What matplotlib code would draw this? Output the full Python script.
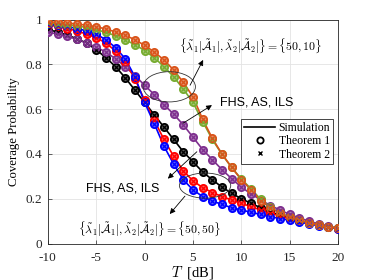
import matplotlib
matplotlib.use("Agg")
import matplotlib.pyplot as plt
from matplotlib.patches import Ellipse
from matplotlib.lines import Line2D
from matplotlib.colors import to_rgb

plt.rcParams['font.family'] = ['Liberation Serif', 'DejaVu Serif']
plt.rcParams['mathtext.fontset'] = 'cm'
plt.rcParams['axes.unicode_minus'] = False

T = list(range(-10, 21))

orange = [0.99, 0.988, 0.985, 0.98, 0.975, 0.968, 0.958, 0.945, 0.93, 0.91, 0.885,
          0.855, 0.82, 0.775, 0.72, 0.655, 0.555, 0.47, 0.40, 0.34, 0.285,
          0.24, 0.192, 0.16, 0.135, 0.118, 0.105, 0.094, 0.084, 0.076, 0.068]
green = [0.985, 0.982, 0.978, 0.972, 0.965, 0.955, 0.943, 0.928, 0.91, 0.888, 0.862,
         0.83, 0.79, 0.745, 0.69, 0.63, 0.545, 0.465, 0.398, 0.34, 0.288,
         0.245, 0.197, 0.163, 0.137, 0.119, 0.105, 0.094, 0.084, 0.076, 0.068]
purple = [0.945, 0.935, 0.925, 0.912, 0.895, 0.877, 0.855, 0.825, 0.79, 0.75, 0.707,
          0.665, 0.62, 0.578, 0.53, 0.475, 0.42, 0.375, 0.33, 0.29, 0.252,
          0.222, 0.195, 0.17, 0.15, 0.13, 0.115, 0.1, 0.088, 0.078, 0.068]
black = [0.955, 0.945, 0.93, 0.915, 0.895, 0.865, 0.83, 0.79, 0.74, 0.685, 0.63,
         0.575, 0.52, 0.465, 0.41, 0.365, 0.32, 0.285, 0.252, 0.225, 0.2,
         0.18, 0.16, 0.142, 0.127, 0.113, 0.102, 0.092, 0.083, 0.075, 0.068]
red = [0.975, 0.97, 0.96, 0.95, 0.935, 0.92, 0.895, 0.86, 0.81, 0.735, 0.64,
       0.55, 0.465, 0.39, 0.325, 0.28, 0.25, 0.228, 0.21, 0.195, 0.18,
       0.165, 0.15, 0.136, 0.123, 0.11, 0.1, 0.09, 0.082, 0.074, 0.067]
blue = [0.98, 0.975, 0.97, 0.96, 0.95, 0.935, 0.91, 0.875, 0.825, 0.745, 0.63,
        0.535, 0.435, 0.355, 0.285, 0.24, 0.21, 0.19, 0.175, 0.16, 0.15,
        0.14, 0.13, 0.12, 0.112, 0.104, 0.096, 0.088, 0.08, 0.073, 0.067]

series = [
    (black, 'k'),
    (purple, '#7E2F8E'),
    (red, 'r'),
    (blue, 'b'),
    (green, '#77AC30'),
    (orange, '#D95319'),
]

label_sets = r'$\{\tilde{\lambda}_1|\tilde{\mathcal{A}}_1|,\tilde{\lambda}_2|\tilde{\mathcal{A}}_2|\}=\{50,%s\}$'


def tint(c, f=0.35):
    r, g, b = to_rgb(c)
    return (r + (1 - r) * f, g + (1 - g) * f, b + (1 - b) * f)


fig = plt.figure(figsize=(3.74, 2.8), dpi=100)
ax = fig.add_axes([0.128, 0.130, 0.776, 0.800])

for ys, c in series:
    ax.plot(T, ys, '-', color=c, lw=1.2, zorder=3)
    ax.plot(T, ys, 'o', mec=c, mfc=tint(c), ms=5.2, mew=1.3, zorder=4)
    ax.plot(T, ys, 'x', color=c, ms=3.0, mew=0.9, zorder=5)

ax.set_xlim(-10, 20)
ax.set_ylim(0, 1)
ax.set_xticks([-10, -5, 0, 5, 10, 15, 20])
ax.set_yticks([0, 0.2, 0.4, 0.6, 0.8, 1])
ax.set_yticklabels(['0', '0.2', '0.4', '0.6', '0.8', '1'])
ax.tick_params(direction='in', length=3, width=0.5, labelsize=9.5, colors='#262626')
ax.tick_params(axis='x', pad=6)
ax.tick_params(axis='y', pad=4)
ax.grid(True, color='#e3e3e3', lw=0.6)
ax.set_axisbelow(True)
for s in ax.spines.values():
    s.set_color('#262626')
    s.set_linewidth(0.6)

ax.set_xlabel(r'$T\;$ [dB]', fontsize=10.5, labelpad=0)
ax.set_ylabel('Coverage Probability', fontsize=9.2, labelpad=4)

# annotations
ax.add_patch(Ellipse((2.55, 0.70), 5.4, 0.135, fill=False, lw=0.6, ec='#333333', zorder=6))
ax.add_patch(Ellipse((6.25, 0.259), 5.3, 0.112, fill=False, lw=0.6, ec='#333333', zorder=6))

arr = dict(arrowstyle='-|>', color='k', lw=0.6, mutation_scale=8, shrinkA=0, shrinkB=0)
ax.annotate('', xy=(6.05, 0.82), xytext=(4.7, 0.707), arrowprops=arr, zorder=7)
ax.annotate('', xy=(6.96, 0.618), xytext=(3.96, 0.537), arrowprops=arr, zorder=7)
ax.annotate('', xy=(2.4, 0.29), xytext=(5.4, 0.41), arrowprops=arr, zorder=7)
ax.annotate('', xy=(2.6, 0.132), xytext=(4.17, 0.212), arrowprops=arr, zorder=7)

ax.text(10.9, 0.886, label_sets % '10', fontsize=8.5, ha='center', va='center', zorder=7)
ax.text(0.55, 0.069, label_sets % '50', fontsize=8.5, ha='center', va='center', zorder=7)
ax.text(7.8, 0.632, 'FHS, AS, ILS', fontsize=9, ha='left', va='center',
        family=['Liberation Sans', 'DejaVu Sans'], zorder=7)
ax.text(-2.24, 0.248, 'FHS, AS, ILS', fontsize=9, ha='center', va='center',
        family=['Liberation Sans', 'DejaVu Sans'], zorder=7)

handles = [
    Line2D([], [], color='k', lw=1.2),
    Line2D([], [], color='k', marker='o', ls='none', mfc='none', ms=4.5, mew=1.3),
    Line2D([], [], color='k', marker='x', ls='none', ms=3.5, mew=1.0),
]
leg = ax.legend(handles, ['Simulation', 'Theorem 1', 'Theorem 2'],
                loc='upper right', bbox_to_anchor=(0.983, 0.555), fontsize=8.5,
                fancybox=False, framealpha=1, edgecolor='#262626',
                borderpad=0.25, handlelength=2.6, handletextpad=0.3, labelspacing=0.1,
                borderaxespad=0)
leg.get_frame().set_linewidth(0.6)
leg.set_zorder(8)

fig.savefig('out.png', dpi=100)
